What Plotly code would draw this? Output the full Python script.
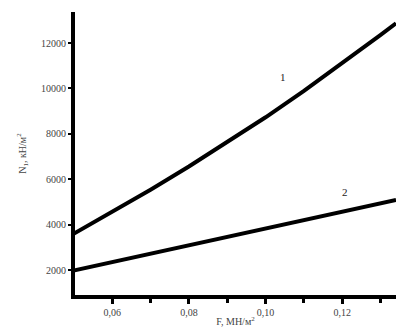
import plotly.graph_objects as go

x_vals = [0.05, 0.06, 0.07, 0.08, 0.09, 0.10, 0.11, 0.12, 0.13, 0.134]
curve1 = [3600, 4560, 5540, 6560, 7620, 8730, 9890, 11100, 12360, 12870]
curve2 = [1980, 2350, 2720, 3090, 3460, 3830, 4200, 4570, 4940, 5090]
labels = ["1", "2"]
label_pos = [(0.1046, 10500), (0.1208, 5440)]
x_ticks = [0.06, 0.08, 0.10, 0.12]
x_ticktext = ["0,06", "0,08", "0,10", "0,12"]
y_ticks = [2000, 4000, 6000, 8000, 10000, 12000]
y_ticktext = ["2000", "4000", "6000", "8000", "10000", "12000"]

fig = go.Figure()
for ys in (curve1, curve2):
    fig.add_trace(go.Scatter(x=x_vals, y=ys, mode="lines",
                             line=dict(color="black", width=4), showlegend=False))
for t, (lx, ly) in zip(labels, label_pos):
    fig.add_annotation(x=lx, y=ly, text=t, showarrow=False,
                       font=dict(family="Liberation Serif", size=11, color="#222"))

fig.update_layout(
    width=396, height=336, margin=dict(l=75, r=0, t=12, b=41),
    paper_bgcolor="white", plot_bgcolor="white",
    font=dict(family="Liberation Serif", size=10, color="#444"),
)
fig.update_xaxes(range=[0.0503, 0.134], tickvals=x_ticks, ticktext=x_ticktext,
                 tickfont=dict(color="#444", size=10),
                 showgrid=False, zeroline=False, showline=True, linecolor="black",
                 linewidth=4, ticks="outside", ticklen=5, tickwidth=3, tickcolor="black",
                 minor=dict(tickvals=[0.07, 0.09, 0.11, 0.13], ticks="outside",
                            ticklen=4, tickwidth=3, tickcolor="black"),
                 title=dict(text="F, МН/м<sup>2</sup>", standoff=2,
                            font=dict(size=10, color="#444")))
fig.update_yaxes(range=[900, 13370], tickvals=y_ticks, ticktext=y_ticktext,
                 tickfont=dict(color="#444", size=10),
                 showgrid=False, zeroline=False, showline=True, linecolor="black",
                 linewidth=4, ticks="outside", ticklen=3, tickwidth=2, tickcolor="black",
                 title=dict(text="N<sub>1</sub>, кН/м<sup>2</sup>", standoff=14,
                            font=dict(size=10, color="#444")))

fig.write_html("out.html")
